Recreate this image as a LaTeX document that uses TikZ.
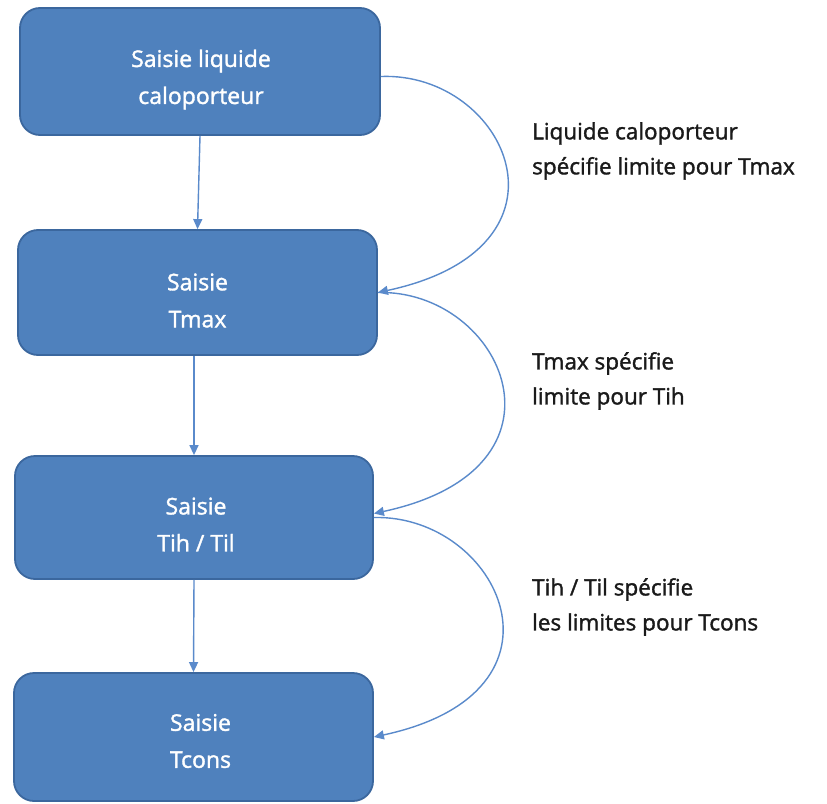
\documentclass[tikz,border=0pt]{standalone}
\usepackage{fontspec}
\setmainfont{Open Sans}
\newfontfamily\medfont{Open Sans}[FakeBold=1.5]
\usetikzlibrary{arrows.meta,calc}
\definecolor{boxfill}{HTML}{4F81BD}
\definecolor{boxline}{HTML}{3B679E}
\definecolor{arrowc}{HTML}{5A8ACB}
\definecolor{txt}{HTML}{1A1A1A}
\begin{document}
\begin{tikzpicture}[x=1pt,y=-1pt,
  box/.style={draw=boxline, line width=1.8pt, fill=boxfill, rounded corners=20pt, inner sep=0pt},
  boxtxt/.style={text=white, font=\medfont\fontsize{23}{37}\selectfont, align=center, inner sep=0pt},
  flow/.style={draw=arrowc, line width=1.4pt, -{Triangle[length=10pt,width=9pt]}},
  lbl/.style={text=txt, font=\medfont\fontsize{22.5}{35}\selectfont, align=left, anchor=west, inner sep=0pt}]
\useasboundingbox[fill=white] (0,0) rectangle (827,803);
\node[box, minimum width=360pt, minimum height=127pt] (b1) at (200,71.5) {};
\node[box, minimum width=359pt, minimum height=125pt] (b2) at (197.5,292.5) {};
\node[box, minimum width=358pt, minimum height=123pt] (b3) at (194,517.5) {};
\node[box, minimum width=359pt, minimum height=128pt] (b4) at (193.5,737) {};
\node[boxtxt] (t1) at ($(b1)+(1,8)$) {Saisie liquide\\caloporteur};
\node[boxtxt] (t2) at ($(b2)+(0,8)$) {Saisie\\Tmax};
\node[boxtxt] (t3) at ($(b3)+(2,7)$) {Saisie\\Tih / Til};
\node[boxtxt] (t4) at ($(b4)+(7,4)$) {Saisie\\Tcons};
\draw[flow] (b1.south) -- (b2.north);
\draw[flow] (b2.south -| b3.north) -- (b3.north);
\draw[flow] (b3.south) -- (b4.north);
\draw[flow] ($(b1.east)+(0,5)$) .. controls +(125,-5) and +(210,-45) .. (b2.east);
\draw[flow] (b2.east) .. controls +(125,-3) and +(210,-45) .. ($(b3.east)+(0,-4)$);
\draw[flow] (b3.east) .. controls +(125,-3) and +(210,-45) .. (b4.east);
\node[lbl] (l1) at (532,151) {Liquide caloporteur\\spécifie limite pour Tmax};
\node[lbl] (l2) at (532,381) {Tmax spécifie\\limite pour Tih};
\node[lbl] (l3) at (532,607) {Tih / Til spécifie\\les limites pour Tcons};
\end{tikzpicture}
\end{document}
